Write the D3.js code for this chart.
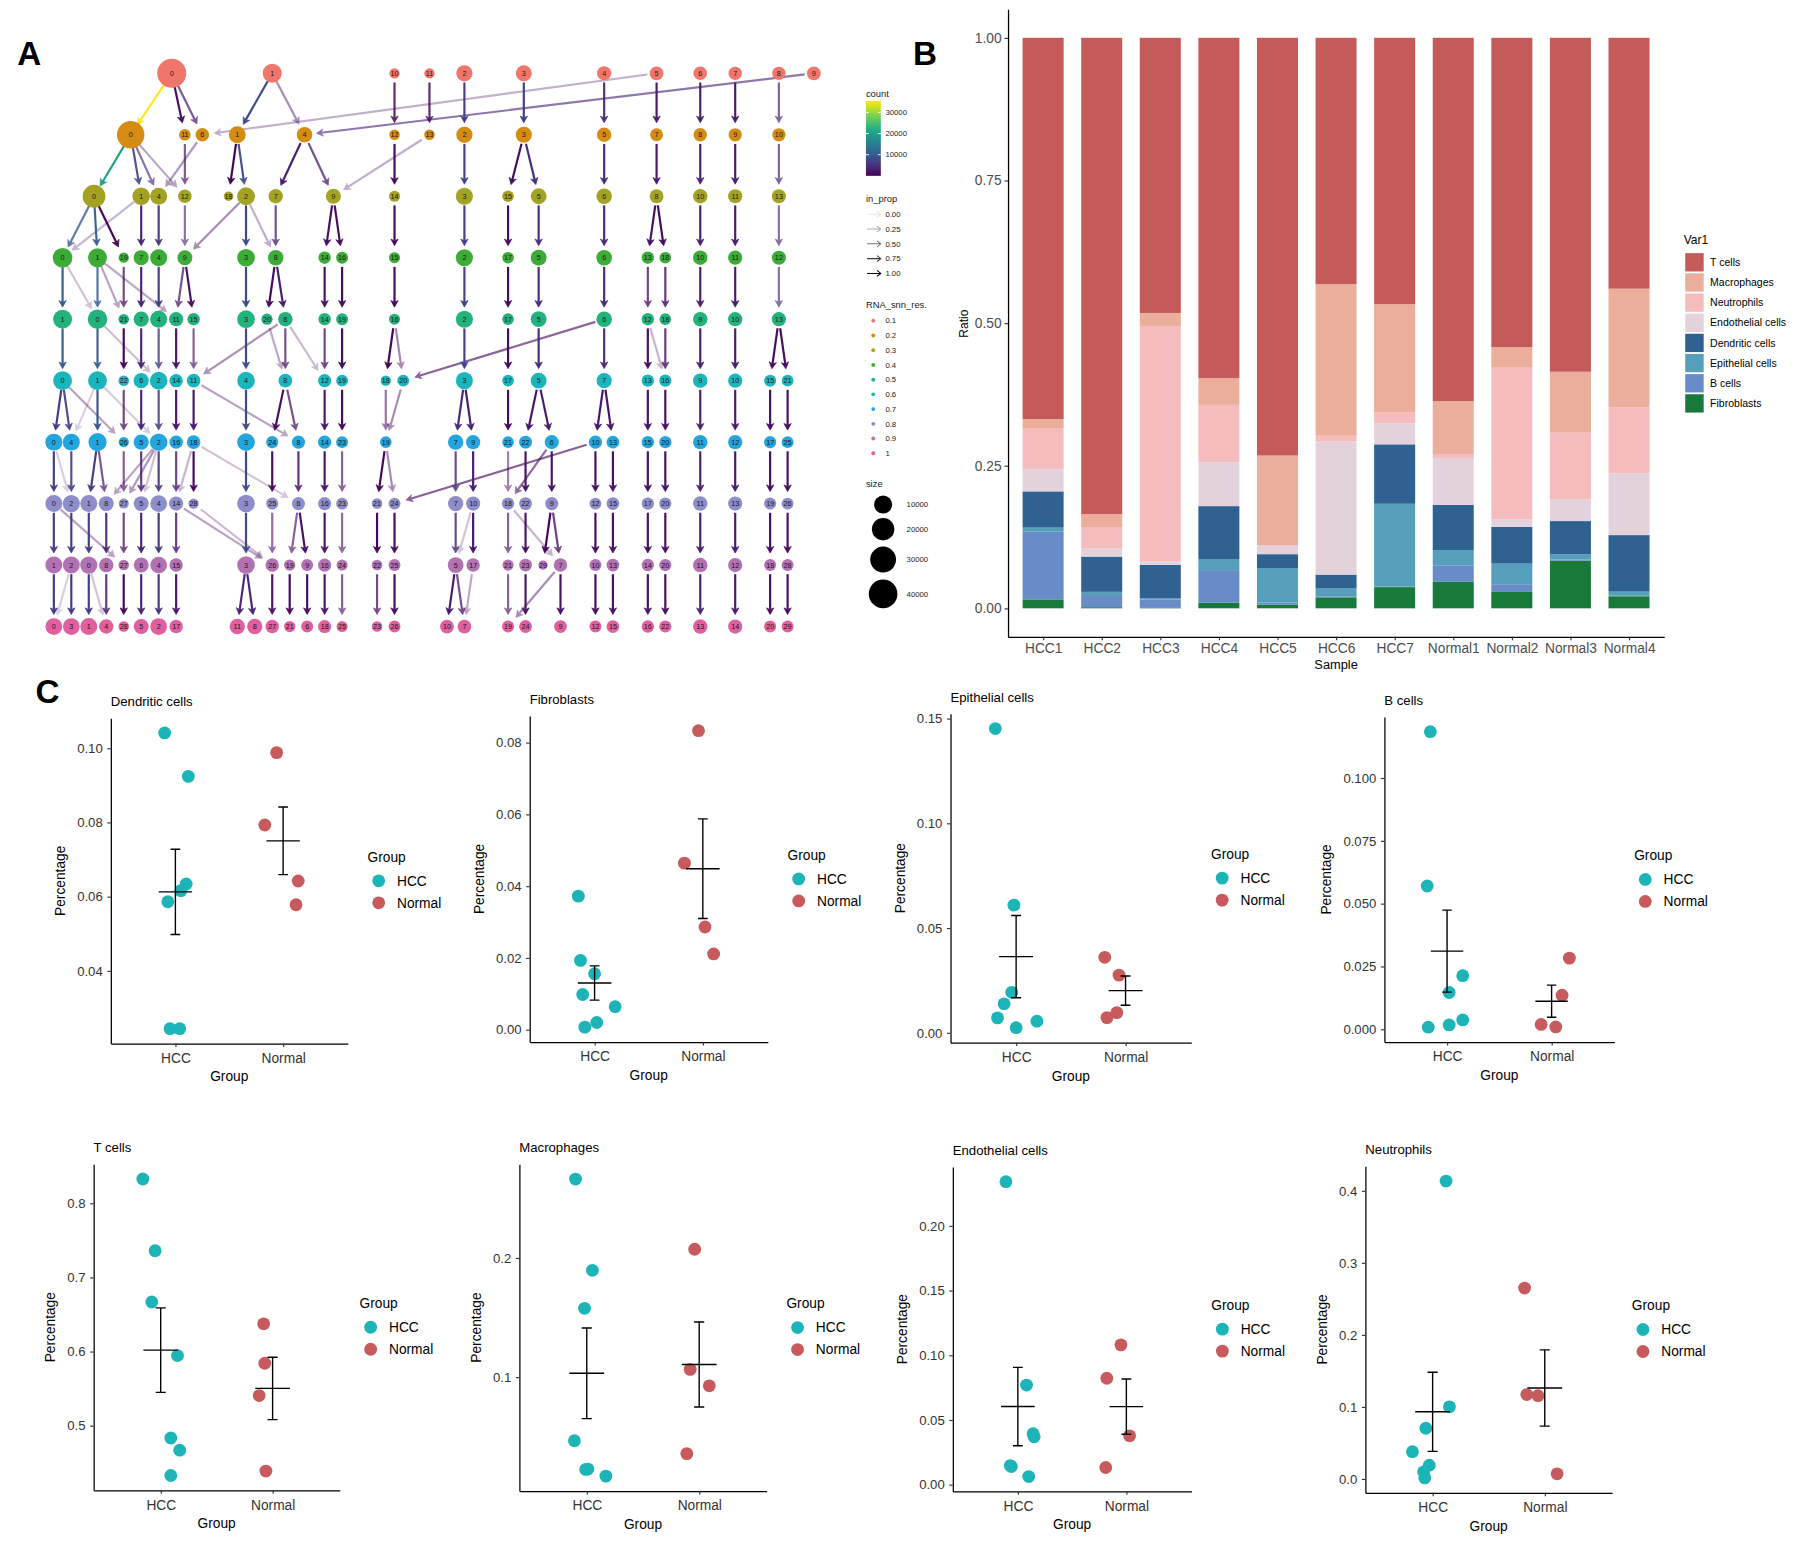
<!DOCTYPE html>
<html>
<head>
<meta charset="utf-8">
<title>Clustree, cell-type ratio per sample, HCC vs Normal</title>
<script src="https://cdn.jsdelivr.net/npm/d3@7"></script>
<style>
  html, body { margin: 0; padding: 0; background: #ffffff; }
  #chart svg { display: block; font-family: "Liberation Sans", Arial, sans-serif; }
</style>
</head>
<body>
<div id="chart"></div>
<script>
"use strict";

/* ---------- panel A: clustree data ---------- */
const resolutions = ["0.1", "0.2", "0.3", "0.4", "0.5", "0.6", "0.7", "0.8", "0.9", "1"];

// nodes of one resolution: [cluster, layout column, cell count]
const res01Nodes = [
    [0, 6.75, 41500], [1, 12.5, 11800], [10, 19.5, 700], [11, 21.5, 700],
    [2, 23.5, 6800], [3, 26.9, 6500], [4, 31.5, 4000], [5, 34.5, 3400],
    [6, 37, 3200], [7, 39, 3000], [8, 41.5, 3000], [9, 43.5, 3500]
];
const res02Nodes = [
    [0, 4.4, 35500], [11, 7.5, 1500], [6, 8.5, 3300], [1, 10.5, 7900],
    [4, 14.35, 5800], [12, 19.5, 800], [13, 21.5, 800], [2, 23.5, 6800],
    [3, 26.9, 6500], [5, 31.5, 4200], [7, 34.5, 2600], [8, 37, 3100],
    [9, 39, 2900], [10, 41.5, 2900]
];
const res03Nodes = [
    [0, 2.3, 21000], [1, 5, 8800], [4, 6, 8000], [12, 7.5, 3200], [18, 10, 350],
    [2, 11, 9600], [7, 12.7, 4200], [9, 16, 5200], [14, 19.5, 1100], [3, 23.5, 8200],
    [15, 26, 1500], [5, 27.75, 6200], [6, 31.5, 5800], [8, 34.5, 3600], [10, 37, 4300],
    [11, 39, 4000], [13, 41.5, 3900]
];
const res04Nodes = [
    [0, 0.5, 13200], [1, 2.5, 11500], [19, 4, 650], [7, 5, 5200], [4, 6, 8000],
    [9, 7.5, 4900], [3, 11, 9200], [8, 12.7, 5500], [14, 15.5, 2100], [16, 16.5, 1700],
    [15, 19.5, 1100], [2, 23.5, 8200], [17, 26, 1500], [5, 27.75, 6200], [6, 31.5, 5800],
    [13, 34, 2100], [18, 35, 1500], [10, 37, 4300], [11, 39, 4000], [12, 41.5, 3900]
];
const res05Nodes = [
    [1, 0.5, 11500], [0, 2.5, 12800], [21, 4, 800], [7, 5, 5200], [4, 6, 8000],
    [11, 7, 3900], [15, 8, 2100], [3, 11, 9200], [20, 12.2, 1200], [8, 13.25, 4300],
    [14, 15.5, 2100], [19, 16.5, 1700], [16, 19.5, 1100], [2, 23.5, 8200], [17, 26, 1500],
    [5, 27.75, 6200], [6, 31.5, 5800], [12, 34, 2100], [18, 35, 1500], [9, 37, 4300],
    [10, 39, 4000], [13, 41.5, 3900]
];
const res06Nodes = [
    [0, 0.5, 11500], [1, 2.5, 11500], [22, 4, 800], [6, 5, 5200], [2, 6, 9200],
    [14, 7, 3100], [11, 8, 3300], [4, 11, 9200], [8, 13.25, 3500], [12, 15.5, 2800],
    [19, 16.5, 1700], [18, 19, 650], [20, 20, 1700], [3, 23.5, 8200], [17, 26, 1500],
    [5, 27.75, 6200], [7, 31.5, 5200], [13, 34, 2100], [16, 35, 1900], [9, 37, 4300],
    [10, 39, 4000], [15, 41, 1800], [21, 42, 1700]
];
const res07Nodes = [
    [0, 0, 8000], [4, 1, 8000], [1, 2.5, 10000], [26, 4, 650], [5, 5, 5200],
    [2, 6, 8800], [16, 7, 3100], [18, 8, 3200], [3, 11, 9200], [24, 12.5, 1800],
    [8, 14, 2800], [14, 15.5, 2800], [23, 16.5, 1700], [19, 19, 1400], [7, 23, 5500],
    [9, 24, 3900], [21, 26, 1500], [22, 27, 2500], [6, 28.5, 3800], [10, 31, 2800],
    [13, 32, 2400], [15, 34, 2100], [20, 35, 1900], [11, 37, 4300], [12, 39, 4000],
    [17, 41, 1800], [25, 42, 1700]
];
const res08Nodes = [
    [0, 0, 8000], [2, 1, 8400], [1, 2, 8000], [8, 3, 4900], [27, 4, 550],
    [5, 5, 4900], [4, 6, 7600], [14, 7, 3900], [28, 8, 650], [3, 11, 9200],
    [25, 12.5, 1800], [6, 14, 2800], [16, 15.5, 2800], [23, 16.5, 1700], [21, 18.5, 800],
    [24, 19.5, 1700], [7, 23, 5500], [10, 24, 3900], [18, 26, 2100], [22, 27, 2500],
    [9, 28.5, 2800], [12, 31, 1700], [15, 32, 2400], [17, 34, 2100], [20, 35, 1900],
    [11, 37, 4300], [13, 39, 4000], [19, 41, 1800], [26, 42, 1700]
];
const res09Nodes = [
    [1, 0, 8000], [2, 1, 8000], [0, 2, 8400], [8, 3, 4200], [27, 4, 800],
    [6, 5, 4900], [4, 6, 7600], [15, 7, 3100], [3, 11, 9200], [26, 12.5, 3100],
    [19, 13.5, 1200], [9, 14.5, 1800], [16, 15.5, 2800], [24, 16.5, 1100], [22, 18.5, 800],
    [25, 19.5, 1700], [5, 23, 6200], [17, 24, 3100], [21, 26, 1200], [23, 27, 2500],
    [29, 28, 250], [7, 29, 3100], [10, 31, 1700], [13, 32, 2400], [14, 34, 2100],
    [20, 35, 1900], [11, 37, 4300], [12, 39, 4000], [18, 41, 1800], [28, 42, 1700]
];
const res10Nodes = [
    [0, 0, 7600], [3, 1, 7600], [1, 2, 8000], [4, 3, 4200], [28, 4, 800],
    [5, 5, 4900], [2, 6, 7600], [17, 7, 3100], [11, 10.5, 5500], [8, 11.5, 5500],
    [27, 12.5, 3100], [21, 13.5, 1200], [6, 14.5, 1800], [18, 15.5, 2800], [25, 16.5, 1100],
    [23, 18.5, 800], [26, 19.5, 1700], [10, 22.5, 3500], [7, 23.5, 3500], [19, 26, 1800],
    [24, 27, 2500], [9, 29, 2400], [12, 31, 1700], [15, 32, 2400], [16, 34, 2100],
    [22, 35, 1900], [13, 37, 4300], [14, 39, 4000], [20, 41, 1800], [29, 42, 1700]
];

// edges between two resolutions: [from cluster, to cluster, cell count, in_prop]
const edges01to02 = [
    [0, 0, 35300, 1], [0, 11, 1500, 1], [0, 6, 2500, 0.69], [1, 1, 7900, 1],
    [1, 4, 2500, 0.43], [10, 12, 700, 0.85], [11, 13, 700, 0.85], [2, 2, 6800, 1],
    [3, 3, 6500, 1], [4, 5, 4000, 0.95], [5, 7, 2600, 1], [5, 6, 800, 0.25],
    [6, 8, 3100, 1], [7, 9, 2900, 1], [8, 10, 2800, 0.65], [9, 4, 3300, 0.57]
];
const edges02to03 = [
    [0, 0, 20000, 1], [0, 1, 7000, 0.9], [0, 4, 4000, 0.62], [0, 12, 800, 0.3],
    [6, 4, 2500, 0.38], [11, 12, 1500, 0.65], [1, 18, 250, 1], [1, 2, 8200, 0.95],
    [4, 7, 3000, 1], [4, 9, 2700, 0.73], [13, 9, 800, 0.25], [12, 14, 800, 1],
    [2, 3, 6800, 1], [3, 15, 1100, 1], [3, 5, 4500, 1], [5, 6, 4200, 1],
    [7, 8, 2600, 1], [8, 10, 3100, 1], [9, 11, 2900, 1], [10, 13, 2800, 0.65]
];
const edges03to04 = [
    [0, 0, 9500, 0.76], [0, 1, 10000, 0.95], [0, 19, 500, 1], [1, 0, 3000, 0.24],
    [1, 7, 3700, 1], [4, 4, 6500, 1], [12, 9, 2000, 0.57], [2, 9, 1500, 0.43],
    [2, 3, 7500, 1], [2, 8, 1000, 0.25], [7, 8, 3000, 0.75], [9, 14, 1500, 1],
    [9, 16, 1200, 1], [14, 15, 800, 1], [3, 2, 6800, 1], [15, 17, 1100, 1],
    [5, 5, 4500, 1], [6, 6, 4200, 1], [8, 13, 1500, 1], [8, 18, 1100, 1],
    [10, 10, 3100, 1], [11, 11, 2900, 1], [13, 12, 2800, 0.6]
];
const edges04to05 = [
    [0, 1, 10500, 1], [0, 0, 2000, 0.17], [1, 0, 10000, 0.83], [1, 21, 250, 0.3],
    [1, 11, 800, 0.28], [19, 21, 450, 0.7], [7, 7, 3700, 1], [4, 4, 6500, 1],
    [9, 11, 2000, 0.72], [9, 15, 1500, 1], [3, 3, 8000, 1], [8, 20, 900, 1],
    [8, 8, 3100, 1], [14, 14, 1500, 1], [16, 19, 1200, 1], [15, 16, 800, 1],
    [2, 2, 6800, 1], [17, 17, 1100, 1], [5, 5, 4500, 1], [6, 6, 4200, 1],
    [13, 12, 1500, 0.75], [18, 18, 1100, 0.8], [10, 9, 3100, 1], [11, 10, 2900, 1],
    [12, 13, 2800, 0.6]
];
const edges05to06 = [
    [1, 0, 10500, 1], [0, 1, 10000, 0.95], [0, 2, 1500, 0.19], [21, 22, 600, 1],
    [7, 6, 3700, 1], [4, 2, 6500, 0.81], [11, 14, 2200, 1], [15, 11, 1500, 0.62],
    [8, 11, 900, 0.38], [3, 4, 8000, 1], [20, 8, 700, 0.28], [8, 8, 1800, 0.72],
    [8, 12, 400, 0.2], [14, 12, 1500, 0.75], [19, 19, 1200, 1], [16, 18, 500, 1],
    [16, 20, 500, 0.42], [6, 20, 700, 0.58], [2, 3, 6800, 1], [17, 17, 1100, 1],
    [5, 5, 4500, 1], [6, 7, 3500, 0.95], [12, 13, 1500, 1], [12, 16, 300, 0.22],
    [18, 16, 1100, 0.78], [9, 9, 3100, 1], [10, 10, 2900, 1], [13, 15, 1300, 1],
    [13, 21, 1200, 1]
];
const edges06to07 = [
    [0, 0, 6500, 1], [0, 4, 6000, 0.9], [0, 26, 150, 0.3], [1, 4, 600, 0.1],
    [1, 1, 9000, 1], [1, 2, 900, 0.12], [22, 26, 350, 0.7], [6, 5, 3700, 1],
    [2, 2, 6600, 0.88], [14, 16, 2200, 1], [11, 18, 2300, 1], [11, 8, 600, 0.3],
    [4, 3, 8000, 1], [8, 24, 1300, 1], [8, 8, 1400, 0.7], [12, 14, 2000, 1],
    [19, 23, 1200, 1], [18, 19, 500, 0.5], [20, 19, 500, 0.4], [3, 7, 4000, 1],
    [3, 9, 2800, 1], [17, 21, 1100, 1], [5, 22, 1800, 1], [5, 6, 2700, 1],
    [7, 10, 2000, 1], [7, 13, 1700, 1], [13, 15, 1500, 1], [16, 20, 1400, 1],
    [9, 11, 3100, 1], [10, 12, 2900, 1], [15, 17, 1300, 1], [21, 25, 1200, 1]
];
const edges07to08 = [
    [0, 0, 6500, 1], [0, 2, 500, 0.1], [4, 2, 6500, 0.9], [1, 1, 6500, 1],
    [1, 8, 2500, 0.7], [2, 8, 1000, 0.3], [2, 27, 150, 0.35], [2, 5, 500, 0.15],
    [2, 4, 5500, 0.92], [26, 27, 250, 0.6], [5, 5, 3000, 0.85], [16, 14, 2200, 0.78],
    [18, 14, 600, 0.22], [18, 28, 500, 1], [18, 6, 300, 0.15], [3, 3, 8000, 1],
    [24, 25, 1300, 1], [8, 6, 1700, 0.85], [14, 16, 2000, 1], [23, 23, 1200, 0.6],
    [19, 21, 600, 1], [19, 24, 400, 0.4], [10, 24, 800, 0.6], [7, 7, 4000, 0.8],
    [9, 10, 2800, 1], [21, 18, 700, 0.45], [6, 18, 800, 0.55], [22, 22, 1800, 1],
    [6, 9, 1900, 1], [10, 12, 1200, 1], [13, 15, 1700, 1], [15, 17, 1500, 1],
    [20, 20, 1400, 1], [11, 11, 3100, 1], [12, 13, 2900, 1], [17, 19, 1300, 1],
    [25, 26, 1200, 1]
];
const edges08to09 = [
    [0, 1, 6500, 1], [0, 27, 200, 0.3], [2, 2, 6500, 1], [1, 0, 6500, 1],
    [8, 8, 3000, 0.9], [27, 27, 400, 0.7], [5, 6, 3500, 1], [4, 4, 6000, 1],
    [14, 15, 2200, 0.8], [14, 26, 700, 0.3], [28, 26, 400, 0.2], [3, 3, 8000, 1],
    [25, 26, 1200, 0.55], [6, 19, 900, 0.6], [6, 9, 1300, 1], [16, 16, 2000, 1],
    [23, 24, 800, 0.55], [21, 22, 600, 1], [24, 25, 1200, 1], [7, 5, 3500, 0.8],
    [10, 5, 600, 0.15], [10, 17, 2200, 1], [18, 21, 900, 0.6], [18, 7, 500, 0.22],
    [22, 23, 1800, 1], [9, 29, 200, 1], [9, 7, 1700, 0.78], [12, 10, 1200, 1],
    [15, 13, 1700, 1], [17, 14, 1500, 1], [20, 20, 1400, 1], [11, 11, 3100, 1],
    [13, 12, 2900, 1], [19, 18, 1300, 1], [26, 28, 1200, 1]
];
const edges09to10 = [
    [1, 0, 6000, 1], [2, 0, 400, 0.1], [2, 3, 6000, 1], [0, 1, 6500, 1],
    [0, 4, 400, 0.15], [8, 4, 2600, 0.85], [27, 28, 600, 1], [6, 5, 3500, 1],
    [4, 2, 6000, 1], [15, 17, 2200, 1], [3, 11, 4000, 1], [3, 8, 4000, 1],
    [26, 27, 2200, 1], [19, 21, 900, 1], [9, 6, 1300, 1], [16, 18, 2000, 1],
    [24, 25, 800, 0.6], [22, 23, 600, 0.7], [25, 26, 1200, 1], [5, 10, 2500, 1],
    [5, 7, 1800, 0.72], [17, 7, 700, 0.28], [21, 19, 800, 0.6], [23, 24, 1800, 1],
    [7, 19, 500, 0.4], [7, 9, 1700, 1], [10, 12, 1200, 1], [13, 15, 1700, 1],
    [14, 16, 1500, 1], [20, 22, 1400, 1], [11, 13, 3100, 1], [12, 14, 2900, 1],
    [18, 20, 1300, 1], [28, 29, 1200, 1]
];

const countLegendTicks = [10000, 20000, 30000];
const propLegendValues = [0, 0.25, 0.5, 0.75, 1];
const sizeLegendValues = [10000, 20000, 30000, 40000];

/* ---------- panels B and C: cell-type fractions per sample ---------- */
const samples = ["HCC1", "HCC2", "HCC3", "HCC4", "HCC5", "HCC6", "HCC7",
                 "Normal1", "Normal2", "Normal3", "Normal4"];
const cellTypes = ["T cells", "Macrophages", "Neutrophils", "Endothelial cells",
                   "Dendritic cells", "Epithelial cells", "B cells", "Fibroblasts"];

const tCells      = [0.6668, 0.8327, 0.4832, 0.5945, 0.7359, 0.4327, 0.4668, 0.6373, 0.5405, 0.5841, 0.4386];
const macrophages = [0.0169, 0.0225, 0.0228, 0.0466, 0.1577, 0.2662, 0.1896, 0.0927, 0.0358, 0.1065, 0.2073];
const neutrophils = [0.0703, 0.0377, 0.4134, 0.1000, 0.0014, 0.0098, 0.0190, 0.0070, 0.2649, 0.1170, 0.1155];
const endothelial = [0.0393, 0.0140, 0.0062, 0.0769, 0.0147, 0.2341, 0.0370, 0.0822, 0.0132, 0.0377, 0.1080];
const dendritic   = [0.0634, 0.0616, 0.0586, 0.0924, 0.0244, 0.0244, 0.1041, 0.0793, 0.0642, 0.0578, 0.0988];
const epithelial  = [0.0071, 0.0055, 0.0024, 0.0193, 0.0609, 0.0138, 0.1452, 0.0275, 0.0360, 0.0096, 0.0072];
const bCells      = [0.1184, 0.0213, 0.0146, 0.0570, 0.0037, 0.0017, 0.0008, 0.0283, 0.0135, 0.0019, 0.0009];
const fibroblasts = [0.0156, 0.0020, 0.0007, 0.0098, 0.0064, 0.0193, 0.0372, 0.0464, 0.0286, 0.0833, 0.0211];

const ratioTicks = [0, 0.25, 0.5, 0.75, 1];

// horizontal jitter of each sample's point in panel C (fraction of a category step)
const tCellsJitter      = [-0.08, -0.16, 0.09, 0.15, -0.05, 0.09, 0.17, -0.08, -0.12, -0.07, -0.06];
const macrophagesJitter = [0.17, -0.01, 0.01, -0.11, -0.02, -0.10, 0.05, 0.09, -0.11, -0.08, -0.04];
const neutrophilsJitter = [-0.06, -0.18, 0.12, 0.15, -0.07, -0.08, -0.03, 0.11, -0.18, -0.16, -0.06];
const endothelialJitter = [0.14, -0.06, 0.10, 0.08, -0.07, -0.11, 0.15, -0.18, -0.19, 0.03, -0.05];
const dendriticJitter   = [0.10, 0.05, -0.07, 0.12, -0.05, 0.04, -0.10, -0.17, 0.14, 0.12, -0.06];
const epithelialJitter  = [-0.17, 0.19, 0.00, -0.04, -0.02, -0.11, -0.19, -0.06, -0.19, -0.08, -0.17];
const bCellsJitter      = [-0.16, 0.15, 0.02, -0.19, 0.15, 0.02, -0.18, 0.17, 0.10, -0.10, 0.04];
const fibroblastsJitter = [0.00, 0.02, -0.09, -0.11, 0.19, -0.13, -0.15, -0.17, 0.02, -0.04, 0.10];

const tCellsTicks      = [0.5, 0.6, 0.7, 0.8];
const macrophagesTicks = [0.1, 0.2];
const neutrophilsTicks = [0.0, 0.1, 0.2, 0.3, 0.4];
const endothelialTicks = [0.00, 0.05, 0.10, 0.15, 0.20];
const dendriticTicks   = [0.04, 0.06, 0.08, 0.10];
const epithelialTicks  = [0.00, 0.05, 0.10, 0.15];
const bCellsTicks      = [0.000, 0.025, 0.050, 0.075, 0.100];
const fibroblastsTicks = [0.00, 0.02, 0.04, 0.06, 0.08];

const groups = ["HCC", "Normal"];

/* ---------- styles ---------- */
const levelColors = ["#f0766c", "#d48c12", "#a3a225", "#3cac37", "#22b27b",
                     "#1bb5bc", "#22a6dd", "#8c8dca", "#b271b3", "#e0609f"];
const cellColors = ["#c45a5a", "#eaae9a", "#f5bcbd", "#e3d2dc",
                    "#2f6191", "#569fbb", "#688cc8", "#187a3a"];
const groupColors = ["#1db4b8", "#c65a5c"];
const FONT = "Liberation Sans, Arial, sans-serif";

/* ---------- canvas ---------- */
const VIEW_W = 1568, VIEW_H = 1357.6;
const svg = d3.select("#chart").append("svg")
              .attr("width", 1796)
              .attr("height", 1555)
              .attr("viewBox", `0 0 ${VIEW_W} ${VIEW_H}`);
svg.append("rect").attr("width", VIEW_W).attr("height", VIEW_H).attr("fill", "#ffffff");
const defs = svg.append("defs");

const panelLetter = (t, x, y) => svg.append("text")
                                    .attr("x", x).attr("y", y)
                                    .attr("font-size", 29)
                                    .attr("font-weight", "bold")
                                    .text(t);
panelLetter("A", 15, 57);
panelLetter("B", 797, 57);
panelLetter("C", 31, 614);

const styleAxis = (g, size, color) => {
    g.attr("font-family", FONT).attr("font-size", size);
    g.select(".domain").attr("stroke", "#000").attr("stroke-width", 1.1);
    g.selectAll(".tick line").attr("stroke", "#333").attr("stroke-width", 1);
    g.selectAll(".tick text").attr("fill", color);
};

/* ---------- panel A ---------- */
const drawClustree = () => {
    const treeNodes = [res01Nodes, res02Nodes, res03Nodes, res04Nodes, res05Nodes,
                       res06Nodes, res07Nodes, res08Nodes, res09Nodes, res10Nodes];
    const treeEdges = [edges01to02, edges02to03, edges03to04, edges04to05, edges05to06,
                       edges06to07, edges07to08, edges08to09, edges09to10];

    const xTree = d3.scaleLinear().domain([0, 43.5]).range([47, 710.5]);
    const yTree = d3.scalePoint().domain(resolutions).range([64, 547]);
    const rTree = d3.scaleSqrt().domain([0, 40000]).range([3.3, 12.5]);
    const countColor = d3.scaleSequential(d3.interpolateViridis).domain([0, 35500]);
    const propAlpha = d3.scaleLinear().domain([0, 1]).range([0.1, 1]);

    const nodeIndex = treeNodes.map((lvl, i) => new Map(lvl.map(([cl, col, n]) =>
        [cl, {cl, n, level: i, x: xTree(col), y: yTree(resolutions[i])}])));
    const nodes = nodeIndex.flatMap(m => Array.from(m.values()));

    const edges = treeEdges.flatMap((lvl, i) => lvl.map(([a, b, n, p]) => ({
        src: nodeIndex[i].get(a), dst: nodeIndex[i + 1].get(b), n, p
    }))).filter(e => e.src && e.dst)
        .sort((a, b) => d3.ascending(a.p, b.p));

    // geometry of one edge: shaft and a notched, filled arrow head
    const geom = e => {
        const dx = e.dst.x - e.src.x, dy = e.dst.y - e.src.y;
        const len = Math.hypot(dx, dy);
        const ux = dx / len, uy = dy / len;
        const sx = e.src.x + ux * 8, sy = e.src.y + uy * 8;
        const tx = e.dst.x - ux * 10.5, ty = e.dst.y - uy * 10.5;
        const bx = tx - ux * 5.8, by = ty - uy * 5.8;
        const nx = tx - ux * 4.2, ny = ty - uy * 4.2;
        return {
            shaft: `M${sx},${sy}L${nx},${ny}`,
            head: `M${tx},${ty}L${bx - uy * 3.2},${by + ux * 3.2}L${nx},${ny}` +
                  `L${bx + uy * 3.2},${by - ux * 3.2}Z`
        };
    };

    const g = svg.append("g").attr("class", "clustree");
    const edgeG = g.append("g").selectAll("g").data(edges).enter()
                   .append("g")
                   .attr("opacity", d => propAlpha(d.p));
    edgeG.append("path")
         .attr("d", d => geom(d).shaft)
         .attr("fill", "none")
         .attr("stroke", d => countColor(d.n))
         .attr("stroke-width", 1.9);
    edgeG.append("path")
         .attr("d", d => geom(d).head)
         .attr("fill", d => countColor(d.n))
         .attr("stroke", d => countColor(d.n))
         .attr("stroke-width", 0.6)
         .attr("stroke-linejoin", "round");

    const nodeG = g.append("g").selectAll("g").data(nodes).enter()
                   .append("g")
                   .attr("transform", d => `translate(${d.x},${d.y})`);
    nodeG.append("circle")
         .attr("r", d => rTree(d.n))
         .attr("fill", d => levelColors[d.level]);
    nodeG.append("text")
         .attr("text-anchor", "middle")
         .attr("dy", "0.35em")
         .attr("font-size", 6.3)
         .attr("fill", "#1a1a1a")
         .text(d => d.cl);

    // legends
    const leg = svg.append("g").attr("font-size", 6.8).attr("fill", "#1a1a1a");
    const legTitle = (t, y) => leg.append("text").attr("x", 756).attr("y", y + 2.9)
                                  .attr("font-size", 8.2).text(t);

    legTitle("count", 81.7);
    const grad = defs.append("linearGradient").attr("id", "viridisBar")
                     .attr("x1", 0).attr("y1", 1).attr("x2", 0).attr("y2", 0);
    d3.range(0, 1.0001, 0.05).forEach(t => grad.append("stop")
        .attr("offset", t).attr("stop-color", d3.interpolateViridis(t)));
    const yBar = d3.scaleLinear().domain([0, 35500]).range([153.5, 88]);
    leg.append("rect").attr("x", 756).attr("y", 88).attr("width", 13).attr("height", 65.5)
       .attr("fill", "url(#viridisBar)");
    countLegendTicks.forEach(v => {
        const y = yBar(v);
        leg.append("path").attr("d", `M756,${y}h2.6M769,${y}h-2.6`)
           .attr("stroke", "#fff").attr("stroke-width", 0.8);
        leg.append("text").attr("x", 773).attr("y", y + 2.4).text(v);
    });

    legTitle("in_prop", 173.3);
    propLegendValues.forEach((v, i) => {
        const y = 187.1 + i * 12.9;
        leg.append("path")
           .attr("d", `M757,${y}L769,${y}M765.6,${y - 2.6}L769,${y}L765.6,${y + 2.6}`)
           .attr("fill", "none").attr("stroke", "#000").attr("stroke-width", 0.9)
           .attr("stroke-opacity", propAlpha(v));
        leg.append("text").attr("x", 773).attr("y", y + 2.4).text(d3.format(".2f")(v));
    });

    legTitle("RNA_snn_res.", 266);
    resolutions.forEach((r, i) => {
        const y = 280 + i * 12.86;
        leg.append("circle").attr("cx", 762.4).attr("cy", y).attr("r", 1.7)
           .attr("fill", levelColors[i]);
        leg.append("text").attr("x", 773).attr("y", y + 2.4).text(r);
    });

    legTitle("size", 422);
    const sizeRows = [440.5, 462, 488.5, 518.5];
    sizeLegendValues.forEach((v, i) => {
        leg.append("circle").attr("cx", 771).attr("cy", sizeRows[i]).attr("r", rTree(v))
           .attr("fill", "#000");
        leg.append("text").attr("x", 791.5).attr("y", sizeRows[i] + 2.4).text(v);
    });
};

/* ---------- panel B ---------- */
const drawRatioBars = () => {
    const cellValues = [tCells, macrophages, neutrophils, endothelial,
                        dendritic, epithelial, bCells, fibroblasts];
    const table = samples.map((s, i) => {
        const row = {sample: s};
        cellTypes.forEach((c, j) => { row[c] = cellValues[j][i]; });
        return row;
    });
    const color = d3.scaleOrdinal().domain(cellTypes).range(cellColors);
    const stack = d3.stack().keys(cellTypes.slice().reverse()).offset(d3.stackOffsetExpand);
    const series = stack(table);

    const left = 880, right = 1452.9, top = 8.1, bottom = 556;
    const xB = d3.scalePoint().domain(samples).range([left, right]).padding(0.6);
    const yB = d3.scaleLinear().domain([-0.05, 1.05]).range([bottom, top]);
    const bw = xB.step() * 0.7;

    const g = svg.append("g").attr("class", "ratio-bars");
    g.selectAll("g.layer").data(series).enter()
     .append("g").attr("class", "layer")
     .attr("fill", d => color(d.key))
     .selectAll("rect").data(d => d).enter()
     .append("rect")
     .attr("x", d => xB(d.data.sample) - bw / 2)
     .attr("width", bw)
     .attr("y", d => yB(d[1]))
     .attr("height", d => yB(d[0]) - yB(d[1]));

    const gy = g.append("g").attr("transform", `translate(${left},0)`)
                .call(d3.axisLeft(yB).tickValues(ratioTicks).tickFormat(d3.format(".2f"))
                        .tickSize(3).tickPadding(2.6).tickSizeOuter(0));
    styleAxis(gy, 12, "#4d4d4d");
    const gx = g.append("g").attr("transform", `translate(0,${bottom})`)
                .call(d3.axisBottom(xB).tickSize(3).tickPadding(2.7).tickSizeOuter(0));
    styleAxis(gx, 12, "#4d4d4d");

    g.append("text").attr("x", (left + right) / 2).attr("y", 584)
     .attr("text-anchor", "middle").attr("font-size", 11.2).text("Sample");
    g.append("text").attr("transform", "translate(841.2,282.6) rotate(-90)")
     .attr("dy", "0.35em").attr("text-anchor", "middle").attr("font-size", 10.5).text("Ratio");

    const leg = g.append("g");
    leg.append("text").attr("x", 1469.9).attr("y", 213).attr("font-size", 10.5).text("Var1");
    cellTypes.forEach((c, i) => {
        const y = 221 + i * 17.6;
        leg.append("rect").attr("x", 1471.3).attr("y", y).attr("width", 16.1).attr("height", 16)
           .attr("fill", color(c));
        leg.append("text").attr("x", 1493).attr("y", y + 8 + 3.2).attr("font-size", 9.2).text(c);
    });
};

/* ---------- panel C ---------- */
const dotPanels = [
    {name: "Dendritic cells",   values: dendritic,   jitter: dendriticJitter,   ticks: dendriticTicks,   fmt: ".2f", frame: [96.7, 303.6, 627, 911]},
    {name: "Fibroblasts",       values: fibroblasts, jitter: fibroblastsJitter, ticks: fibroblastsTicks, fmt: ".2f", frame: [462.4, 670.3, 625, 909.7]},
    {name: "Epithelial cells",  values: epithelial,  jitter: epithelialJitter,  ticks: epithelialTicks,  fmt: ".2f", frame: [829.8, 1040, 623, 910.3]},
    {name: "B cells",           values: bCells,      jitter: bCellsJitter,      ticks: bCellsTicks,      fmt: ".3f", frame: [1208.6, 1409.4, 625.9, 909.7]},
    {name: "T cells",           values: tCells,      jitter: tCellsJitter,      ticks: tCellsTicks,      fmt: ".1f", frame: [81.7, 296.6, 1016.4, 1301.1]},
    {name: "Macrophages",       values: macrophages, jitter: macrophagesJitter, ticks: macrophagesTicks, fmt: ".1f", frame: [453.4, 669.3, 1016.4, 1301.7]},
    {name: "Endothelial cells", values: endothelial, jitter: endothelialJitter, ticks: endothelialTicks, fmt: ".2f", frame: [831.8, 1040.2, 1018.8, 1302]},
    {name: "Neutrophils",       values: neutrophils, jitter: neutrophilsJitter, ticks: neutrophilsTicks, fmt: ".1f", frame: [1192, 1407.4, 1018.2, 1303.2]}
];

const drawDotPanel = p => {
    const [x0, x1, top, bottom] = p.frame;
    const groupOf = s => s.startsWith("HCC") ? "HCC" : "Normal";
    const points = samples.map((s, i) => ({group: groupOf(s), v: p.values[i], j: p.jitter[i]}));
    const stats = groups.map(gname => {
        const vals = points.filter(d => d.group === gname).map(d => d.v);
        const mean = d3.mean(vals);
        const se = d3.deviation(vals) / Math.sqrt(vals.length);
        return {group: gname, mean, lo: mean - se, hi: mean + se};
    });
    const lo = Math.min(d3.min(points, d => d.v), d3.min(stats, d => d.lo));
    const hi = Math.max(d3.max(points, d => d.v), d3.max(stats, d => d.hi));
    const pad = (hi - lo) * 0.05;

    const x = d3.scalePoint().domain(groups).range([x0, x1]).padding(0.6);
    const y = d3.scaleLinear().domain([lo - pad, hi + pad]).range([bottom, top]);
    const color = d3.scaleOrdinal().domain(groups).range(groupColors);
    const step = x.step();

    const g = svg.append("g").attr("class", "dot-panel");
    g.append("text").attr("x", x0).attr("y", top - 10.5).attr("font-size", 11.5).text(p.name);

    g.append("g").selectAll("circle").data(points).enter()
     .append("circle")
     .attr("cx", d => x(d.group) + d.j * step)
     .attr("cy", d => y(d.v))
     .attr("r", 5.6)
     .attr("fill", d => color(d.group));

    const eb = g.append("g").attr("stroke", "#000").attr("stroke-width", 1.2).attr("fill", "none");
    stats.forEach(s => {
        const cx = x(s.group);
        eb.append("path").attr("d",
            `M${cx},${y(s.lo)}V${y(s.hi)}` +
            `M${cx - 0.045 * step},${y(s.lo)}H${cx + 0.045 * step}` +
            `M${cx - 0.045 * step},${y(s.hi)}H${cx + 0.045 * step}` +
            `M${cx - 0.155 * step},${y(s.mean)}H${cx + 0.155 * step}`);
    });

    const gy = g.append("g").attr("transform", `translate(${x0},0)`)
                .call(d3.axisLeft(y).tickValues(p.ticks).tickFormat(d3.format(p.fmt))
                        .tickSize(3).tickPadding(4).tickSizeOuter(0));
    styleAxis(gy, 11.5, "#333");
    const gx = g.append("g").attr("transform", `translate(0,${bottom})`)
                .call(d3.axisBottom(x).tickSize(3).tickPadding(5.5).tickSizeOuter(0));
    styleAxis(gx, 12, "#333");

    const labelW = d3.max(gy.selectAll(".tick text").nodes(), n => n.getComputedTextLength());
    g.append("text")
     .attr("transform", `translate(${x0 - 7 - labelW - 14.6},${(top + bottom) / 2}) rotate(-90)`)
     .attr("dy", "0.35em").attr("text-anchor", "middle").attr("font-size", 12)
     .text("Percentage");
    g.append("text").attr("x", (x0 + x1) / 2).attr("y", bottom + 33.2)
     .attr("text-anchor", "middle").attr("font-size", 12).text("Group");

    const cy = (top + bottom) / 2;
    g.append("text").attr("x", x1 + 17.3).attr("y", cy - 21 + 4.2).attr("font-size", 12).text("Group");
    groups.forEach((gname, i) => {
        g.append("circle").attr("cx", x1 + 27).attr("cy", cy + i * 19.2).attr("r", 5.6)
         .attr("fill", color(gname));
        g.append("text").attr("x", x1 + 43).attr("y", cy + i * 19.2 + 4.2)
         .attr("font-size", 12).text(gname);
    });
};

drawClustree();
drawRatioBars();
dotPanels.forEach(drawDotPanel);
</script>
</body>
</html>
